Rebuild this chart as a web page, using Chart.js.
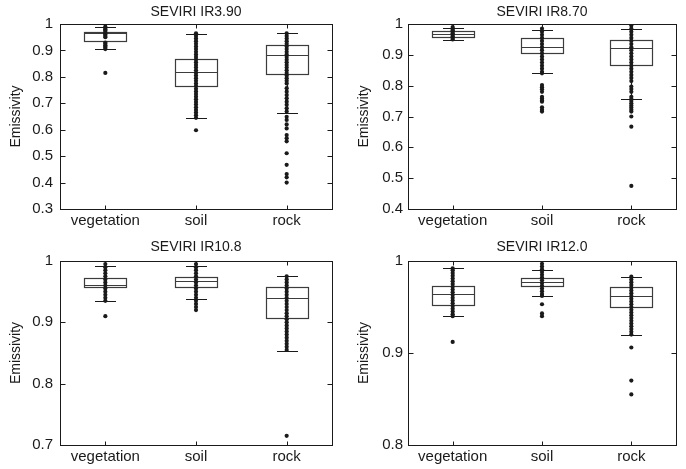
<!DOCTYPE html>
<html>
<head>
<meta charset="utf-8">
<script src="https://cdn.jsdelivr.net/npm/chart.js@4/dist/chart.umd.min.js"></script>
<style>
  html, body { margin: 0; padding: 0; background: #fff; }
  #wrap { position: relative; width: 686px; height: 469px; }
  canvas { position: absolute; }
</style>
</head>
<body>
<div id="wrap">
  <canvas id="p1" width="343" height="235" style="left:0;top:0"></canvas>
  <canvas id="p2" width="343" height="235" style="left:343px;top:0"></canvas>
  <canvas id="p3" width="343" height="234" style="left:0;top:235px"></canvas>
  <canvas id="p4" width="343" height="234" style="left:343px;top:235px"></canvas>
</div>
<script>
// Emissivity box plots, four SEVIRI channels
const categories = ['vegetation', 'soil', 'rock'];
const titles = ['SEVIRI IR3.90', 'SEVIRI IR8.70', 'SEVIRI IR10.8', 'SEVIRI IR12.0'];
const yMins = [0.3, 0.4, 0.7, 0.8];

// per category: [lower whisker, q1, median, q3, upper whisker]
const ir390Box = [[0.907, 0.934, 0.966, 0.970, 0.987], [0.644, 0.765, 0.818, 0.866, 0.963], [0.662, 0.812, 0.883, 0.919, 0.965]];
const ir870Box = [[0.948, 0.959, 0.967, 0.977, 0.988], [0.842, 0.905, 0.926, 0.955, 0.981], [0.757, 0.868, 0.923, 0.947, 0.985]];
const ir108Box = [[0.935, 0.957, 0.961, 0.973, 0.992], [0.9375, 0.957, 0.968, 0.974, 0.992], [0.853, 0.907, 0.940, 0.958, 0.976]];
const ir120Box = [[0.940, 0.9525, 0.964, 0.973, 0.992], [0.962, 0.973, 0.977, 0.981, 0.990], [0.920, 0.950, 0.962, 0.972, 0.983]];

// individual samples drawn as dots
const ir390Veg = [0.99, 0.985, 0.98, 0.975, 0.97, 0.965, 0.96, 0.955, 0.95, 0.93, 0.925, 0.92, 0.915, 0.91, 0.905, 0.815];
const ir390Soil = [0.965, 0.955, 0.945, 0.935, 0.925, 0.915, 0.905, 0.895, 0.885, 0.875, 0.865, 0.855, 0.845, 0.835, 0.825,
  0.815, 0.805, 0.795, 0.785, 0.775, 0.765, 0.755, 0.745, 0.735, 0.725, 0.715, 0.705, 0.695, 0.685, 0.675, 0.665, 0.655, 0.645, 0.598];
const ir390Rock = [0.965, 0.955, 0.945, 0.935, 0.925, 0.915, 0.905, 0.895, 0.885, 0.875, 0.865, 0.855, 0.845, 0.835, 0.825,
  0.815, 0.805, 0.795, 0.785, 0.775, 0.757, 0.744, 0.731, 0.719, 0.706, 0.694, 0.681, 0.669, 0.649, 0.637, 0.620, 0.605,
  0.580, 0.568, 0.556, 0.511, 0.467, 0.432, 0.420, 0.400];

const ir870Veg = [0.99, 0.985, 0.98, 0.975, 0.97, 0.965, 0.96, 0.955, 0.95];
const ir870Soil = [0.985, 0.975, 0.965, 0.955, 0.945, 0.935, 0.925, 0.915, 0.905, 0.895, 0.885, 0.875, 0.865, 0.855, 0.845, 0.84,
  0.802, 0.795, 0.788, 0.780, 0.764, 0.758, 0.752, 0.748, 0.730, 0.722, 0.716];
const ir870Rock = [0.995, 0.985, 0.975, 0.965, 0.955, 0.945, 0.935, 0.925, 0.915, 0.905, 0.895, 0.885, 0.875, 0.865, 0.855,
  0.845, 0.835, 0.825, 0.815, 0.797, 0.789, 0.780, 0.764, 0.757, 0.750, 0.743, 0.736, 0.729, 0.722, 0.716, 0.700, 0.667, 0.475];

const ir108Veg = [0.995, 0.99, 0.985, 0.98, 0.975, 0.97, 0.965, 0.96, 0.955, 0.95, 0.945, 0.94, 0.935, 0.91];
const ir108Soil = [0.995, 0.99, 0.985, 0.98, 0.975, 0.97, 0.965, 0.96, 0.955, 0.95, 0.945, 0.94, 0.935, 0.93, 0.925, 0.92];
const ir108Rock = [0.975, 0.97, 0.965, 0.96, 0.955, 0.95, 0.945, 0.94, 0.935, 0.93, 0.925, 0.92, 0.915, 0.91, 0.905, 0.90,
  0.895, 0.89, 0.885, 0.88, 0.875, 0.87, 0.865, 0.86, 0.855, 0.715];

const ir120Veg = [0.992, 0.99, 0.987, 0.984, 0.981, 0.978, 0.975, 0.972, 0.969, 0.966, 0.963, 0.96, 0.957, 0.954, 0.951,
  0.948, 0.945, 0.942, 0.94, 0.912];
const ir120Soil = [0.997, 0.994, 0.991, 0.988, 0.985, 0.982, 0.979, 0.976, 0.973, 0.970, 0.967, 0.964, 0.962, 0.953, 0.943, 0.940];
const ir120Rock = [0.983, 0.98, 0.977, 0.974, 0.971, 0.968, 0.965, 0.962, 0.959, 0.956, 0.953, 0.95, 0.947, 0.944, 0.941,
  0.938, 0.935, 0.932, 0.929, 0.926, 0.923, 0.92, 0.906, 0.870, 0.855];

const FONT = "'Liberation Sans', Arial, sans-serif";
const INK = '#1a1a1a';

// box, median, whiskers and caps, drawn under the dots
function boxPlugin(stats) {
  return {
    id: 'boxes',
    beforeDatasetsDraw(chart) {
      const { ctx, scales: { x, y } } = chart;
      const px = v => Math.round(y.getPixelForValue(v)) + 0.5;
      ctx.save();
      ctx.lineWidth = 1.2;
      stats.forEach((s, i) => {
        const cx = Math.round(x.getPixelForValue(i + 1)) + 0.5;
        const [lo, q1, med, q3, hi] = s.map(px);
        ctx.strokeStyle = '#3c3c3c';
        ctx.strokeRect(cx - 21, q3, 42, q1 - q3);
        ctx.beginPath();
        ctx.moveTo(cx - 21, med); ctx.lineTo(cx + 21, med);
        ctx.stroke();
        ctx.strokeStyle = INK;
        ctx.beginPath();
        ctx.moveTo(cx, q3); ctx.lineTo(cx, hi);
        ctx.moveTo(cx, q1); ctx.lineTo(cx, lo);
        ctx.moveTo(cx - 10.5, hi); ctx.lineTo(cx + 10.5, hi);
        ctx.moveTo(cx - 10.5, lo); ctx.lineTo(cx + 10.5, lo);
        ctx.stroke();
      });
      ctx.restore();
    }
  };
}

// matlab-like axes box with inward ticks
const framePlugin = {
  id: 'frame',
  afterDraw(chart) {
    const { ctx, chartArea: a, scales: { x, y } } = chart;
    const l = Math.round(a.left) + 0.5, r = Math.round(a.right) + 0.5;
    const t = Math.round(a.top) + 0.5, b = Math.round(a.bottom) + 0.5;
    ctx.save();
    ctx.strokeStyle = INK;
    ctx.lineWidth = 1;
    ctx.strokeRect(l, t, r - l, b - t);
    ctx.beginPath();
    y.ticks.forEach(tk => {
      const py = Math.round(y.getPixelForValue(tk.value)) + 0.5;
      ctx.moveTo(l, py); ctx.lineTo(l + 5, py);
      ctx.moveTo(r, py); ctx.lineTo(r - 5, py);
    });
    x.ticks.forEach(tk => {
      const pxx = Math.round(x.getPixelForValue(tk.value)) + 0.5;
      ctx.moveTo(pxx, t); ctx.lineTo(pxx, t + 4);
      ctx.moveTo(pxx, b); ctx.lineTo(pxx, b - 4);
    });
    ctx.stroke();
    ctx.restore();
  }
};

function makePanel(id, title, yMin, stats, dots, lay) {
  const points = dots.flatMap((vals, i) => vals.map(v => ({ x: i + 1, y: v })));
  return new Chart(document.getElementById(id), {
    type: 'scatter',
    data: {
      datasets: [{
        data: points,
        pointRadius: 2.1,
        pointBackgroundColor: INK,
        pointBorderWidth: 0,
      }],
    },
    options: {
      responsive: false,
      animation: false,
      layout: { padding: { left: 0, right: lay.right, top: 0, bottom: 0 } },
      plugins: {
        legend: { display: false },
        tooltip: { enabled: false },
        title: {
          display: true,
          text: title,
          fullSize: false,
          color: INK,
          font: { family: FONT, size: 14, weight: 'normal' },
          padding: { top: lay.titleTop, bottom: lay.titleBottom },
        },
      },
      scales: {
        x: {
          type: 'linear',
          min: 0.5,
          max: 3.5,
          afterBuildTicks: s => { s.ticks = categories.map((c, i) => ({ value: i + 1 })); },
          afterFit: s => { s.height = lay.xHeight; },
          grid: { display: false, drawTicks: false },
          border: { display: false },
          ticks: {
            autoSkip: false,
            maxRotation: 0,
            padding: 3,
            color: INK,
            font: { family: FONT, size: 15 },
            callback: v => categories[v - 1],
          },
        },
        y: {
          min: yMin,
          max: 1,
          afterFit: s => { s.width = lay.yWidth; },
          grid: { display: false, drawTicks: false },
          border: { display: false },
          ticks: {
            stepSize: 0.1,
            padding: lay.tickPad,
            color: INK,
            font: { family: FONT, size: 15 },
            callback: v => String(Number(v.toFixed(1))),
          },
          title: {
            display: true,
            text: 'Emissivity',
            color: INK,
            font: { family: FONT, size: 14 },
            padding: { top: lay.titlePad, bottom: 0 },
          },
        },
      },
    },
    plugins: [boxPlugin(stats), framePlugin],
  });
}

makePanel('p1', titles[0], yMins[0], ir390Box, [ir390Veg, ir390Soil, ir390Rock],
  { right: 11, yWidth: 60, xHeight: 26, titleTop: 3.6, titleBottom: 3.6, tickPad: 7, titlePad: 8 });
makePanel('p2', titles[1], yMins[1], ir870Box, [ir870Veg, ir870Soil, ir870Rock],
  { right: 10, yWidth: 65, xHeight: 26, titleTop: 3.6, titleBottom: 3.6, tickPad: 5, titlePad: 13 });
makePanel('p3', titles[2], yMins[2], ir108Box, [ir108Veg, ir108Soil, ir108Rock],
  { right: 11, yWidth: 60, xHeight: 24, titleTop: 3.6, titleBottom: 5.6, tickPad: 7, titlePad: 8 });
makePanel('p4', titles[3], yMins[3], ir120Box, [ir120Veg, ir120Soil, ir120Rock],
  { right: 10, yWidth: 65, xHeight: 24, titleTop: 3.6, titleBottom: 5.6, tickPad: 5, titlePad: 13 });
</script>
</body>
</html>
